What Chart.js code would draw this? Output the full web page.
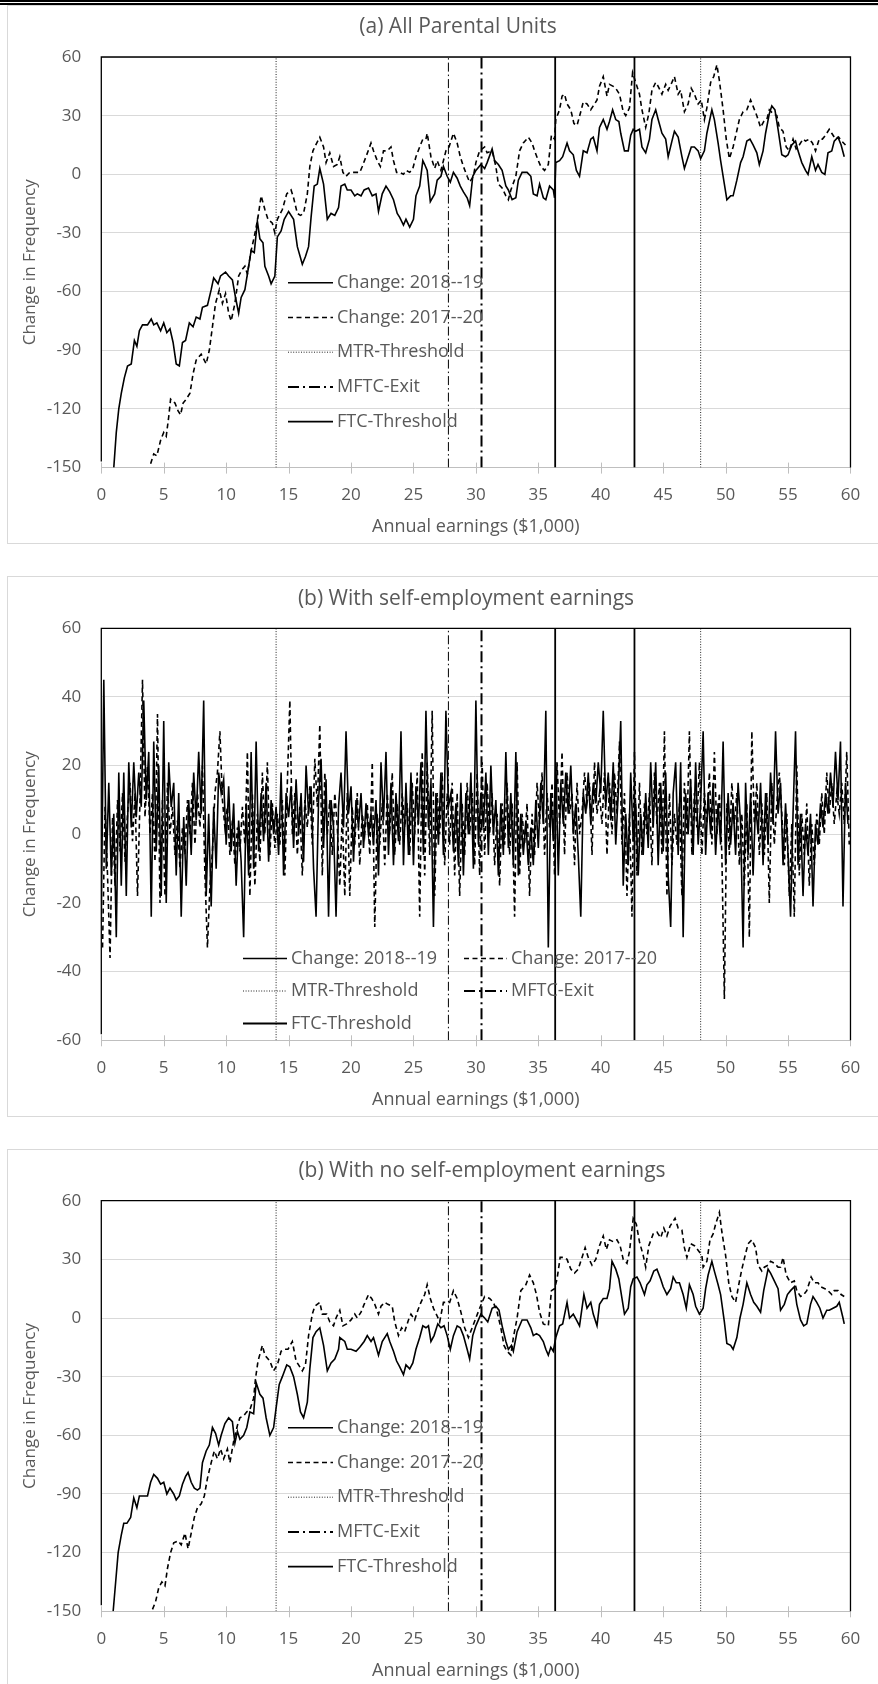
<!DOCTYPE html>
<html>
<head>
<meta charset="utf-8">
<script src="https://cdn.jsdelivr.net/npm/chart.js@4.4.1/dist/chart.umd.min.js"></script>
<style>
  html, body { margin: 0; padding: 0; background: #fff; width: 878px; height: 1684px; overflow: hidden; }
  .rule { position: absolute; left: 0; width: 878px; background: #000; }
  .box { position: absolute; left: 7px; width: 1000px; border: 1px solid #d9d9d9; box-sizing: border-box; }
  canvas { position: absolute; left: 0; }
</style>
</head>
<body>
<div class="rule" style="top:0;height:1.5px"></div>
<div class="rule" style="top:3px;height:1.5px"></div>
<div class="box" style="top:5px;height:539px"></div>
<div class="box" style="top:576px;height:541px"></div>
<div class="box" style="top:1149px;height:600px"></div>
<canvas id="panelA" width="878" height="544" style="top:0px"></canvas>
<canvas id="panelB" width="878" height="541" style="top:576px"></canvas>
<canvas id="panelC" width="878" height="539" style="top:1149px"></canvas>
<script>
// ---- Threshold positions (annual earnings, $1,000) ----
const mtrThresholds = [14, 48];
const mftcExitLow = [27.8];
const mftcExitHigh = [30.45];
const ftcThresholds = [36.35, 42.7];

// ---- Axis ranges: [min, max, step] ----
const earningsAxis = [0, 60, 5];
const changeAxisWide = [-150, 60, 30];
const changeAxisNarrow = [-60, 60, 20];

// ---- (a) All parental units: [earnings, change] ----
const allUnits1819 = [
  [1.0,-150],[1.2,-132],[1.4,-120],[1.6,-112],[1.85,-104],[2.1,-98],[2.4,-97],[2.65,-85],[2.85,-88],[3.05,-80],
  [3.3,-77],[3.7,-77],[4.0,-74],[4.2,-77],[4.45,-76],[4.75,-80],[5.0,-76],[5.25,-81],[5.5,-79],[5.75,-86],
  [6.0,-97],[6.25,-98],[6.5,-86],[6.75,-85],[7.05,-76],[7.35,-78],[7.6,-73],[7.9,-74],[8.1,-68],[8.5,-67],
  [8.8,-59],[9.0,-53],[9.35,-56],[9.55,-52],[9.95,-50],[10.2,-52],[10.5,-54],[10.75,-63],[11.0,-71],[11.2,-63],
  [11.5,-59],[11.7,-51],[12.0,-39],[12.25,-40],[12.5,-24],[12.7,-33],[12.95,-35],[13.1,-47],[13.4,-52],[13.6,-56],
  [13.9,-52],[14.1,-32],[14.4,-29],[14.65,-23],[15.0,-19],[15.4,-23],[15.7,-37],[16.1,-46],[16.35,-42],[16.6,-37],
  [16.8,-22],[17.05,-6],[17.3,-5],[17.5,3],[17.8,-5],[18.1,-23],[18.4,-20],[18.7,-21],[19.0,-17],[19.2,-6],
  [19.5,-5],[19.7,-8],[20.0,-8],[20.3,-11],[20.5,-10],[20.8,-11],[21.05,-8],[21.4,-7],[21.7,-11],[22.0,-10],
  [22.2,-19],[22.5,-10],[22.8,-6],[23.1,-9],[23.4,-13],[23.7,-20],[23.9,-22],[24.2,-26],[24.4,-23],[24.7,-27],
  [25.0,-23],[25.2,-11],[25.5,-6],[25.75,7],[25.9,5],[26.1,2],[26.35,-14],[26.7,-10],[26.9,-3],[27.2,-1],
  [27.4,4],[27.7,-1],[27.95,-4],[28.2,1],[28.5,-2],[28.75,-6],[29.0,-9],[29.3,-12],[29.5,-16],[29.75,-1],
  [30.0,2],[30.4,5],[30.7,3],[30.9,6],[31.3,13],[31.5,7],[31.8,5],[32.1,2],[32.4,-6],[32.6,-8],
  [32.9,-13],[33.2,-12],[33.4,-3],[33.7,1],[34.1,1],[34.4,-1],[34.6,-10],[34.9,-11],[35.1,-5],[35.4,-12],
  [35.6,-13],[35.9,-6],[36.2,-8],[36.3,-12],[36.4,6],[36.7,7],[36.95,9],[37.3,16],[37.5,12],[37.8,10],
  [38.05,2],[38.3,-1],[38.6,12],[38.9,11],[39.2,18],[39.4,19],[39.7,12],[39.9,24],[40.2,28],[40.5,23],
  [40.7,27],[40.95,33],[41.2,28],[41.45,27],[41.6,21],[41.9,12],[42.2,12],[42.4,20],[42.6,23],[42.8,22],
  [43.1,23],[43.3,14],[43.6,11],[43.9,18],[44.1,28],[44.4,33],[44.6,28],[44.9,21],[45.2,18],[45.4,9],
  [45.7,17],[45.9,22],[46.2,19],[46.5,9],[46.7,3],[47.0,9],[47.25,14],[47.5,14],[47.8,12],[48.0,8],
  [48.3,12],[48.5,21],[48.9,33],[49.1,28],[49.4,16],[49.6,7],[49.9,-5],[50.1,-13],[50.4,-11],[50.6,-11],
  [50.9,-3],[51.2,6],[51.4,9],[51.7,17],[51.95,18],[52.2,15],[52.5,11],[52.7,5],[53.0,12],[53.2,21],
  [53.5,31],[53.7,35],[53.95,33],[54.2,23],[54.5,10],[54.8,9],[55.0,10],[55.3,15],[55.6,17],[55.8,12],
  [56.1,6],[56.4,2],[56.6,0],[56.9,9],[57.2,2],[57.4,5],[57.7,1],[57.95,0],[58.2,11],[58.5,12],
  [58.7,17],[59.0,19],[59.25,15],[59.5,9]
];
const allUnits1720 = [
  [3.95,-148],[4.2,-143],[4.45,-144],[4.75,-136],[5.0,-132],[5.2,-134],[5.4,-124],[5.55,-115],[5.9,-117],[6.15,-121],
  [6.35,-123],[6.55,-117],[6.8,-115],[7.1,-112],[7.35,-102],[7.6,-95],[8.0,-92],[8.4,-97],[8.65,-90],[8.9,-78],
  [9.15,-66],[9.45,-59],[9.7,-66],[9.95,-61],[10.2,-71],[10.4,-75],[10.7,-66],[11.0,-52],[11.25,-49],[11.5,-47],
  [11.7,-51],[12.0,-39],[12.25,-32],[12.55,-22],[12.8,-11],[13.1,-18],[13.35,-23],[13.7,-25],[13.9,-30],[14.1,-23],
  [14.5,-18],[14.85,-10],[15.2,-8],[15.4,-12],[15.7,-20],[15.95,-21],[16.2,-20],[16.5,-10],[16.7,4],[16.95,12],
  [17.25,16],[17.5,19],[17.8,14],[18.0,6],[18.3,11],[18.6,4],[18.9,5],[19.1,9],[19.35,1],[19.6,-1],
  [19.9,1],[20.3,1],[20.7,1],[20.9,4],[21.2,9],[21.6,16],[21.8,12],[22.1,7],[22.35,4],[22.6,12],
  [22.9,12],[23.2,14],[23.4,7],[23.65,1],[23.9,1],[24.2,0],[24.4,2],[24.7,1],[24.95,3],[25.2,9],
  [25.5,14],[25.75,18],[26.0,18],[26.1,21],[26.4,9],[26.7,3],[26.9,7],[27.2,2],[27.6,12],[27.85,14],
  [28.2,21],[28.5,16],[28.75,9],[29.0,4],[29.3,-1],[29.5,-4],[29.8,-1],[30.0,6],[30.3,12],[30.7,14],
  [30.9,11],[31.3,12],[31.6,4],[31.8,-5],[32.1,-7],[32.4,-11],[32.6,-13],[32.8,-8],[33.2,-1],[33.5,12],
  [33.8,16],[34.2,19],[34.5,16],[34.7,12],[35.0,7],[35.2,4],[35.5,2],[35.8,5],[36.05,20],[36.3,18],
  [36.4,28],[36.7,33],[36.9,40],[37.1,41],[37.3,36],[37.6,33],[37.85,26],[38.1,25],[38.4,32],[38.6,37],
  [38.9,36],[39.2,33],[39.4,35],[39.7,38],[39.9,45],[40.2,50],[40.5,40],[40.7,46],[41.0,45],[41.2,44],
  [41.5,41],[41.8,32],[42.0,30],[42.3,34],[42.55,52],[42.8,47],[43.1,41],[43.3,33],[43.6,24],[43.85,31],
  [44.1,43],[44.4,47],[44.6,45],[44.9,41],[45.2,46],[45.4,43],[45.7,47],[45.9,50],[46.2,41],[46.4,43],
  [46.7,32],[47.0,36],[47.25,44],[47.5,41],[47.8,36],[48.05,38],[48.3,28],[48.5,34],[48.8,47],[49.05,50],
  [49.3,56],[49.5,48],[49.8,33],[50.05,18],[50.3,8],[50.6,14],[50.85,21],[51.1,28],[51.4,32],[51.7,33],
  [52.0,38],[52.25,34],[52.5,30],[52.8,24],[53.05,27],[53.3,28],[53.5,33],[53.8,31],[54.1,30],[54.3,24],
  [54.6,22],[54.85,14],[55.1,12],[55.4,18],[55.65,13],[55.9,15],[56.2,18],[56.4,17],[56.7,18],[56.95,16],
  [57.2,12],[57.5,18],[57.75,18],[58.0,20],[58.3,23],[58.5,21],[58.8,18],[59.05,19],[59.3,17],[59.6,15]
];

// ---- (b) With self-employment earnings: change per $200 band ----
const selfEmpBandStart1819 = 0;
const selfEmpBandStart1720 = 0.1;
const selfEmpBandWidth = 0.2;
const selfEmp1819 = [
  -25,45,-10,15,-12,6,-30,18,-15,18,-18,21,2,21,5,18,8,39,10,24,
  -24,27,-5,20,-18,33,-20,21,8,15,-12,12,-24,5,-15,10,-6,18,4,24,
  6,39,-18,6,-21,8,-10,18,12,16,-3,14,-5,9,-15,4,-8,-30,9,-12,
  24,-10,27,-5,12,-2,15,-8,10,0,8,-6,18,-12,12,5,14,-4,16,0,
  12,-8,20,6,14,-10,-24,10,22,-4,16,-24,10,2,-24,8,18,2,30,6,
  14,-8,10,2,12,-4,9,0,6,-3,10,-12,21,4,24,-6,15,-9,12,-2,
  30,-9,15,-6,18,-9,14,3,21,-6,36,2,15,-27,12,-3,18,-6,36,8,
  12,-5,9,-9,15,-12,12,0,18,-10,39,-3,12,2,18,-6,20,0,10,-12,
  9,-6,24,-4,12,-9,24,-12,6,-6,4,-9,2,-9,10,-4,15,3,36,-33,
  12,-2,21,-12,15,3,18,6,20,0,9,-6,-24,12,6,18,3,15,9,21,
  12,36,8,18,4,21,-3,12,33,-15,6,-9,18,-2,9,-12,6,-6,12,-4,
  21,2,21,-9,15,-5,18,-12,-27,12,21,-6,21,-30,12,0,16,-6,21,-3,
  9,30,-6,12,0,15,-6,9,-3,27,-9,12,-3,9,-6,15,3,-33,15,-6,
  12,-12,9,0,15,-9,12,-3,18,3,30,6,15,-9,9,-6,-24,6,30,-9,
  6,-18,3,-6,6,-21,3,-3,9,2,12,6,18,8,24,10,27,-21,15,3
];
const selfEmp1720 = [
  -33,8,-12,-36,5,-15,10,-5,12,-8,6,15,-2,12,-18,10,45,5,20,0,
  12,-8,35,-20,10,-18,15,0,8,-6,4,-10,2,-6,10,0,15,-3,12,2,
  20,-12,-33,-15,-5,12,18,30,10,2,8,-6,4,-9,2,-5,8,-3,24,-18,
  12,-15,6,-8,18,0,21,-6,9,-4,6,-3,10,-12,15,39,0,12,-6,8,
  -12,10,2,14,-3,22,8,32,-12,18,0,10,-6,12,2,-15,6,-18,12,-18,
  8,-3,12,-9,6,0,9,-6,21,-27,6,-3,9,-9,12,0,18,-6,9,-3,
  12,2,9,-6,15,0,18,-24,24,-12,21,-6,36,-18,12,0,18,-9,12,-3,
  15,-12,12,-18,9,-6,15,0,12,-9,18,-12,21,-6,15,0,12,-9,6,-15,
  9,-3,15,-6,9,-24,21,-12,6,-3,9,-18,6,-6,15,3,18,-6,12,2,
  15,-12,21,3,24,-6,18,6,12,-9,15,0,6,18,9,15,-6,21,6,12,
  3,18,-6,15,0,18,6,27,-3,12,-18,6,-24,24,-12,15,-6,9,0,12,
  -9,18,3,15,-6,30,-18,12,-9,6,-3,9,-18,15,0,30,-6,12,2,21,
  -6,12,3,18,-3,24,0,12,-6,-48,9,-6,15,3,12,-9,6,-15,9,-30,
  30,3,15,-6,9,-6,12,-20,15,-3,9,18,6,-9,6,-18,3,-24,20,-12,
  6,-6,9,-15,3,-9,6,-3,12,0,18,6,15,3,12,6,15,3,24,-3
];

// ---- (b) With no self-employment earnings: [earnings, change] ----
const noSelfEmp1819 = [
  [0.95,-150],[1.15,-135],[1.35,-120],[1.6,-111],[1.8,-105],[2.05,-105],[2.35,-102],[2.6,-92],[2.85,-97],[3.05,-91],
  [3.4,-91],[3.7,-91],[3.95,-84],[4.2,-80],[4.5,-82],[4.75,-85],[5.0,-84],[5.25,-90],[5.5,-87],[5.8,-90],
  [6.0,-93],[6.25,-91],[6.5,-85],[6.75,-81],[6.95,-79],[7.2,-84],[7.45,-87],[7.7,-88],[7.9,-87],[8.1,-74],
  [8.4,-68],[8.65,-65],[8.9,-56],[9.15,-59],[9.4,-65],[9.6,-60],[9.9,-54],[10.2,-51],[10.5,-53],[10.7,-64],
  [10.9,-58],[11.1,-62],[11.4,-60],[11.65,-56],[11.9,-48],[12.2,-49],[12.4,-33],[12.7,-39],[12.95,-41],[13.2,-51],
  [13.5,-60],[13.8,-56],[14.0,-46],[14.25,-34],[14.5,-30],[14.85,-24],[15.1,-25],[15.4,-30],[15.7,-39],[15.95,-48],
  [16.2,-51],[16.5,-43],[16.7,-26],[16.95,-10],[17.2,-7],[17.5,-5],[17.8,-14],[18.1,-27],[18.4,-23],[18.7,-21],
  [19.0,-16],[19.1,-10],[19.5,-12],[19.7,-16],[20.0,-16],[20.4,-17],[20.7,-15],[21.05,-12],[21.3,-9],[21.6,-12],
  [21.8,-10],[22.2,-19],[22.5,-12],[22.9,-8],[23.1,-12],[23.4,-17],[23.65,-22],[23.9,-25],[24.2,-29],[24.4,-24],
  [24.7,-26],[24.95,-23],[25.2,-16],[25.5,-10],[25.75,-4],[26.0,-5],[26.2,-4],[26.4,-12],[26.65,-9],[26.95,-3],
  [27.2,-5],[27.45,-4],[27.7,-9],[27.95,-16],[28.2,-9],[28.5,-4],[28.75,-5],[29.0,-9],[29.3,-16],[29.5,-21],
  [29.75,-9],[30.0,-4],[30.4,2],[30.7,0],[30.95,-2],[31.3,5],[31.6,6],[31.85,4],[32.1,-4],[32.4,-12],
  [32.6,-16],[32.85,-14],[33.0,-17],[33.3,-7],[33.7,-1],[34.1,-1],[34.4,-5],[34.6,-9],[34.85,-8],[35.1,-9],
  [35.4,-12],[35.6,-16],[35.8,-19],[36.0,-15],[36.2,-17],[36.4,-10],[36.7,-4],[36.95,-3],[37.3,8],[37.5,0],
  [37.8,2],[38.05,-1],[38.3,-4],[38.65,12],[38.9,5],[39.2,8],[39.4,2],[39.7,-4],[39.9,7],[40.2,10],
  [40.5,10],[40.7,15],[40.9,29],[41.2,25],[41.45,20],[41.6,14],[41.9,2],[42.2,5],[42.4,16],[42.6,20],
  [42.9,21],[43.15,18],[43.5,12],[43.7,17],[43.95,19],[44.25,24],[44.5,25],[44.8,20],[45.0,16],[45.3,12],
  [45.6,15],[45.8,21],[46.05,18],[46.3,18],[46.6,12],[46.85,5],[47.1,17],[47.4,12],[47.6,6],[47.9,2],
  [48.2,5],[48.4,15],[48.6,22],[48.9,29],[49.1,24],[49.4,17],[49.6,12],[49.9,-2],[50.1,-13],[50.4,-14],
  [50.6,-16],[50.9,-10],[51.15,0],[51.4,7],[51.7,18],[52.0,12],[52.25,8],[52.5,6],[52.8,3],[53.05,14],
  [53.4,25],[53.6,23],[53.9,19],[54.2,15],[54.4,4],[54.7,7],[54.95,12],[55.2,14],[55.5,16],[55.7,7],
  [56.0,-1],[56.25,-4],[56.5,-3],[56.8,7],[57.0,11],[57.3,8],[57.55,5],[57.8,0],[58.1,4],[58.3,4],
  [58.6,5],[58.9,6],[59.1,8],[59.4,0],[59.5,-3]
];
const noSelfEmp1720 = [
  [4.1,-149],[4.35,-145],[4.6,-138],[4.85,-135],[5.1,-137],[5.3,-128],[5.55,-120],[5.8,-115],[6.15,-114],[6.4,-116],
  [6.7,-110],[6.95,-118],[7.2,-110],[7.45,-102],[7.7,-97],[8.0,-95],[8.25,-91],[8.5,-82],[8.8,-74],[9.05,-68],
  [9.3,-72],[9.55,-67],[9.8,-72],[10.1,-67],[10.3,-74],[10.6,-63],[10.9,-55],[11.1,-51],[11.4,-50],[11.65,-48],
  [11.9,-47],[12.2,-41],[12.35,-31],[12.55,-22],[12.9,-14],[13.1,-19],[13.5,-22],[13.8,-27],[14.1,-24],[14.4,-17],
  [14.65,-16],[14.95,-16],[15.3,-12],[15.6,-22],[15.8,-24],[16.1,-27],[16.35,-24],[16.6,-9],[16.9,2],[17.1,6],
  [17.5,8],[17.7,2],[18.05,2],[18.3,-2],[18.6,-4],[18.8,0],[19.1,4],[19.35,-4],[19.65,-3],[20.0,-1],
  [20.3,2],[20.5,0],[20.8,3],[21.05,7],[21.4,12],[21.65,10],[21.9,7],[22.2,2],[22.4,6],[22.7,8],
  [22.95,7],[23.3,6],[23.5,-2],[23.8,-9],[24.05,-5],[24.3,-7],[24.6,-1],[24.8,2],[25.1,-1],[25.35,4],
  [25.6,8],[25.9,12],[26.1,17],[26.35,10],[26.6,5],[26.9,1],[27.1,-2],[27.4,8],[27.65,8],[27.9,8],
  [28.2,14],[28.5,10],[28.8,3],[29.1,-5],[29.4,-10],[29.7,-5],[30.0,0],[30.3,5],[30.7,11],[31.1,10],
  [31.4,8],[31.7,3],[32.0,-5],[32.25,-14],[32.5,-17],[32.8,-19],[33.0,-10],[33.3,0],[33.6,14],[34.0,17],
  [34.3,22],[34.6,18],[34.85,12],[35.1,3],[35.4,-3],[35.8,-4],[36.05,14],[36.3,15],[36.5,20],[36.75,31],
  [37.05,31],[37.3,30],[37.6,25],[37.9,23],[38.2,25],[38.5,31],[38.75,36],[39.0,31],[39.3,27],[39.6,30],
  [39.9,37],[40.2,42],[40.45,35],[40.7,40],[41.0,39],[41.3,40],[41.55,37],[41.8,30],[42.1,28],[42.3,34],
  [42.6,51],[42.85,48],[43.1,39],[43.4,32],[43.6,26],[43.85,37],[44.2,43],[44.5,44],[44.8,41],[45.05,46],
  [45.3,42],[45.55,47],[45.95,51],[46.2,46],[46.5,45],[46.7,36],[46.9,31],[47.2,38],[47.5,37],[47.75,35],
  [48.1,32],[48.2,26],[48.5,29],[48.75,40],[49.0,43],[49.2,48],[49.5,54],[49.7,44],[50.0,32],[50.25,18],
  [50.5,11],[50.8,8],[51.05,17],[51.3,25],[51.6,33],[51.8,38],[52.1,40],[52.4,36],[52.6,27],[52.9,24],
  [53.1,26],[53.4,27],[53.6,29],[53.9,28],[54.2,26],[54.4,26],[54.6,31],[54.85,22],[55.2,18],[55.5,19],
  [55.7,14],[56.0,11],[56.25,12],[56.5,14],[56.85,21],[57.1,18],[57.4,18],[57.6,16],[57.95,15],[58.2,14],
  [58.5,12],[58.7,14],[59.0,14],[59.25,12],[59.5,11]
];

// ---- Drawing helpers ----
const FONT = '"Open Sans", "DejaVu Sans", sans-serif';
const TEXT = '#595959';
const GRID = '#d9d9d9';
const AXIS = '#bfbfbf';
Chart.defaults.font.family = FONT;
Chart.defaults.color = TEXT;

const toPoints = rows => rows.map(r => ({ x: r[0], y: r[1] }));
const toBands = (values, start, width) => values.map((v, i) => ({ x: +(start + i * width).toFixed(2), y: v }));
const toVerticals = (xs, lo, hi) => xs.flatMap(x => [{ x, y: lo }, { x, y: hi }, { x, y: null }]);

// Black plot frame (top, right, left) and cross tick marks on the earnings axis
const plotFrame = {
  id: 'plotFrame',
  afterDatasetsDraw(chart) {
    const { ctx, chartArea: a, scales: { x } } = chart;
    ctx.save();
    ctx.strokeStyle = AXIS;
    ctx.lineWidth = 1;
    x.ticks.forEach(t => {
      const px = Math.round(x.getPixelForValue(t.value)) + 0.5;
      ctx.beginPath();
      ctx.moveTo(px, a.bottom - 5);
      ctx.lineTo(px, a.bottom + 6);
      ctx.stroke();
    });
    ctx.strokeStyle = '#000';
    ctx.lineWidth = 1.3;
    ctx.beginPath();
    ctx.moveTo(a.left, a.bottom - 6);
    ctx.lineTo(a.left, a.top);
    ctx.lineTo(a.right, a.top);
    ctx.lineTo(a.right, a.bottom);
    ctx.stroke();
    ctx.restore();
  }
};

// Legend drawn inside the plot, using each dataset's own line style
const inplotLegend = {
  id: 'inplotLegend',
  afterDatasetsDraw(chart, args, opts) {
    const ctx = chart.ctx;
    const items = chart.data.datasets.filter(d => !d.legendSkip);
    ctx.save();
    ctx.font = opts.fontSize + 'px ' + FONT;
    ctx.fillStyle = TEXT;
    ctx.textBaseline = 'middle';
    ctx.textAlign = 'left';
    items.forEach((d, i) => {
      const col = opts.columns[i % opts.columns.length];
      const row = Math.floor(i / opts.columns.length);
      const y = opts.top + row * opts.rowGap;
      ctx.save();
      ctx.strokeStyle = d.borderColor;
      ctx.lineWidth = d.legendWidth || d.borderWidth;
      ctx.setLineDash(d.borderDash || []);
      ctx.beginPath();
      ctx.moveTo(col.x0, y);
      ctx.lineTo(col.x1, y);
      ctx.stroke();
      ctx.restore();
      ctx.fillText(d.label, col.text, y);
    });
    ctx.restore();
  }
};

const panelTitle = {
  id: 'panelTitle',
  afterDraw(chart, args, opts) {
    const ctx = chart.ctx;
    ctx.save();
    ctx.font = opts.fontSize + 'px ' + FONT;
    ctx.fillStyle = TEXT;
    ctx.textAlign = 'center';
    ctx.textBaseline = 'middle';
    ctx.fillText(opts.text, opts.x, opts.y);
    ctx.restore();
  }
};

function makePanel(id, cfg) {
  const [ymin, ymax, ystep] = cfg.yAxis;
  const [xmin, xmax, xstep] = earningsAxis;
  const canvas = document.getElementById(id);
  const xHeight = canvas.height - cfg.plotBottom;
  const lineW = cfg.lineWidth;
  const datasets = [
    { label: 'Change: 2018--19', data: cfg.s1819, borderColor: '#000', borderWidth: lineW, legendWidth: 1.6, borderDash: [] },
    { label: 'Change: 2017--20', data: cfg.s1720, borderColor: '#000', borderWidth: lineW, legendWidth: 1.6, borderDash: [5, 3.5] },
    { label: 'MTR-Threshold', data: toVerticals(mtrThresholds, ymin, ymax), borderColor: '#222', borderWidth: 1, borderDash: [1, 1.6] },
    { label: 'MFTC-Exit', data: toVerticals(mftcExitHigh, ymin, ymax), borderColor: '#000', borderWidth: 2, borderDash: [11, 4, 2, 4] },
    { label: 'FTC-Threshold', data: toVerticals(ftcThresholds, ymin, ymax), borderColor: '#000', borderWidth: 1.8, borderDash: [] },
    { label: 'MFTC-Exit', legendSkip: true, data: toVerticals(mftcExitLow, ymin, ymax), borderColor: '#000', borderWidth: 1, borderDash: [9, 3, 1.5, 3] }
  ];
  datasets.forEach(d => { d.pointRadius = 0; d.fill = false; d.tension = 0; d.spanGaps = false; });

  return new Chart(canvas, {
    type: 'line',
    data: { datasets },
    plugins: [plotFrame, inplotLegend, panelTitle],
    options: {
      responsive: false,
      animation: false,
      events: [],
      layout: { padding: { top: cfg.plotTop, right: 878 - 867.3, left: 0, bottom: 0 } },
      plugins: {
        legend: { display: false },
        tooltip: { enabled: false },
        title: { display: false },
        inplotLegend: cfg.legend,
        panelTitle: cfg.title
      },
      scales: {
        x: {
          type: 'linear', min: xmin, max: xmax,
          ticks: { stepSize: xstep, font: { size: 17 }, color: TEXT, padding: 17.8, maxRotation: 0 },
          grid: { drawOnChartArea: false, drawTicks: false },
          border: { display: true, color: AXIS, width: 1 },
          title: { display: true, text: 'Annual earnings ($1,000)', font: { size: 18 }, color: TEXT, padding: { top: 0, bottom: 6.5 } },
          afterFit: s => { s.height = xHeight; }
        },
        y: {
          type: 'linear', min: ymin, max: ymax,
          ticks: { stepSize: ystep, font: { size: 17 }, color: TEXT, padding: 20 },
          grid: { color: GRID, lineWidth: 1, drawTicks: false },
          border: { display: false },
          title: { display: true, text: 'Change in Frequency', font: { size: 17 }, color: TEXT, padding: { top: 20, bottom: 0 } },
          afterFit: s => { s.width = 101.3; }
        }
      }
    }
  });
}

makePanel('panelA', {
  yAxis: changeAxisWide,
  plotTop: 57, plotBottom: 467.6, lineWidth: 1.6,
  s1819: toPoints(allUnits1819),
  s1720: toPoints(allUnits1720),
  title: { text: '(a) All Parental Units', x: 458, y: 27.5, fontSize: 21 },
  legend: { fontSize: 18, top: 282.7, rowGap: 34.75, columns: [{ x0: 288, x1: 333, text: 337 }] }
});

makePanel('panelB', {
  yAxis: changeAxisNarrow,
  plotTop: 52.3, plotBottom: 464.3, lineWidth: 1.6,
  s1819: toBands(selfEmp1819, selfEmpBandStart1819, selfEmpBandWidth),
  s1720: toBands(selfEmp1720, selfEmpBandStart1720, selfEmpBandWidth),
  title: { text: '(b) With self-employment earnings', x: 466, y: 23, fontSize: 21 },
  legend: { fontSize: 18, top: 382.5, rowGap: 32.5, columns: [{ x0: 243, x1: 287, text: 291 }, { x0: 464, x1: 507, text: 511 }] }
});

makePanel('panelC', {
  yAxis: changeAxisWide,
  plotTop: 51.7, plotBottom: 462.3, lineWidth: 1.6,
  s1819: toPoints(noSelfEmp1819),
  s1720: toPoints(noSelfEmp1720),
  title: { text: '(b) With no self-employment earnings', x: 482, y: 22, fontSize: 21 },
  legend: { fontSize: 18, top: 278.7, rowGap: 34.75, columns: [{ x0: 288, x1: 333, text: 337 }] }
});
</script>
</body>
</html>
